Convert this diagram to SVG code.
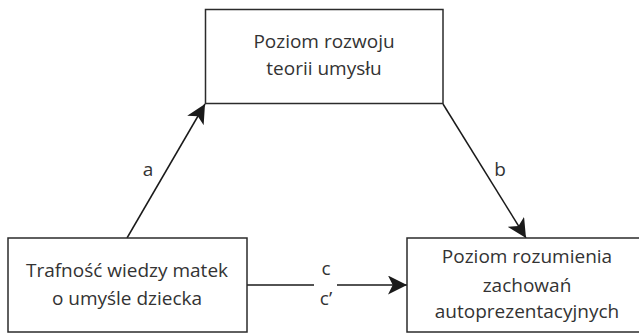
<svg xmlns="http://www.w3.org/2000/svg" width="639" height="334" viewBox="0 0 639 334">
<defs>
<style>
.box{fill:#fff;stroke:#2b2b2b;stroke-width:1.5}
.t{font-family:"Open Sans","Noto Sans",sans-serif;font-size:19px;fill:#333;text-anchor:middle}
.l{font-family:"Open Sans","Noto Sans",sans-serif;font-size:19px;fill:#333;text-anchor:middle}
.c{stroke:#1a1a1a;stroke-width:1.5;fill:none}
</style>
<marker id="ah" viewBox="0 0 10 10" refX="10" refY="5" markerWidth="19" markerHeight="19" markerUnits="userSpaceOnUse" orient="auto">
<path d="M0,0 L10,5 L0,10 L2.5,5 Z" fill="#1a1a1a"/>
</marker>
</defs>
<g id="connectors">
<line class="c" x1="127" y1="238" x2="205" y2="104" marker-end="url(#ah)"/>
<line class="c" x1="443" y1="104" x2="526" y2="238" marker-end="url(#ah)"/>
<line class="c" x1="247" y1="285" x2="314" y2="285"/>
<line class="c" x1="337" y1="285" x2="407" y2="285" marker-end="url(#ah)"/>
<text class="l" x="148" y="176">a</text>
<text class="l" x="500" y="176">b</text>
<text class="l" x="326" y="275">c</text>
<text class="l" x="326" y="305">c’</text>
</g>
<g id="node-top">
<rect class="box" x="205.5" y="9.5" width="237.5" height="94"/>
<text class="t" x="324" y="48">Poziom rozwoju</text>
<text class="t" x="324" y="75">teorii umysłu</text>
</g>
<g id="node-left">
<rect class="box" x="8" y="238" width="239" height="94"/>
<text class="t" x="127" y="277">Trafność wiedzy matek</text>
<text class="t" x="127" y="305">o umyśle dziecka</text>
</g>
<g id="node-right">
<rect class="box" x="407" y="238" width="240" height="94"/>
<text class="t" x="527" y="263">Poziom rozumienia</text>
<text class="t" x="527" y="292">zachowań</text>
<text class="t" x="527" y="318">autoprezentacyjnych</text>
</g>
</svg>
